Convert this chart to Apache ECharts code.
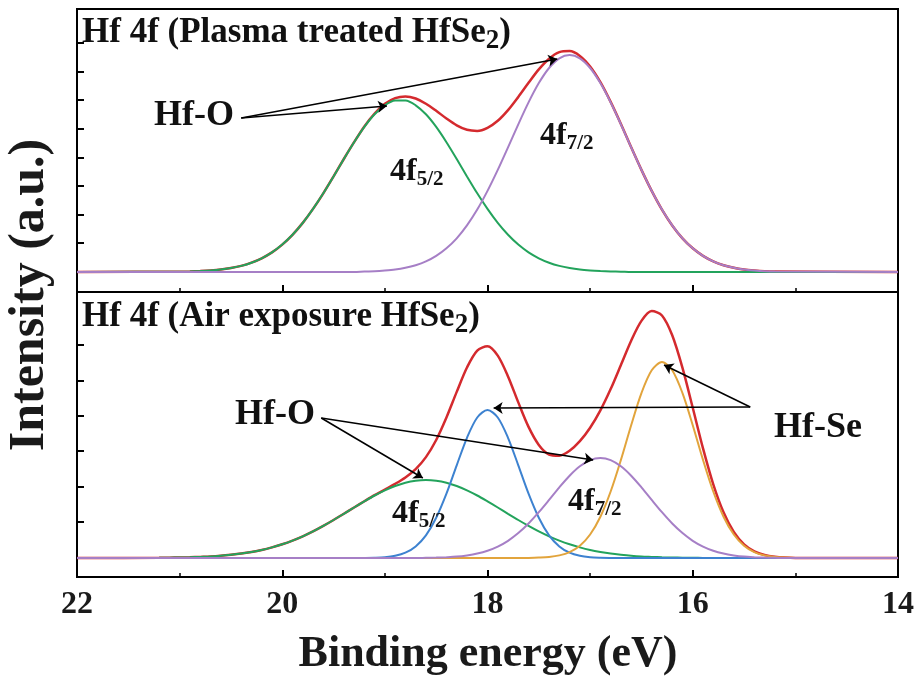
<!DOCTYPE html>
<html><head><meta charset="utf-8">
<script src="https://cdn.jsdelivr.net/npm/echarts@6/dist/echarts.min.js"></script>
<style>html,body{margin:0;padding:0;background:#fff}#c{width:919px;height:682px}</style>
</head><body><div id="c"></div>
<script>
// ---------------- data ----------------
const xTickLabels = {22:'22', 20:'20', 18:'18', 16:'16', 14:'14'};

const topEnergy = [22.0,
 21.0,20.9,20.8,20.7,20.6,20.5,20.4,20.3,20.2,20.1,
 20.0,19.9,19.8,19.7,19.6,19.5,19.4,19.3,19.2,19.1,
 19.0,18.9,18.8,18.7,18.6,18.5,18.4,18.3,18.2,18.1,
 18.0,17.9,17.8,17.7,17.6,17.5,17.4,17.3,17.2,17.1,
 17.0,16.9,16.8,16.7,16.6,16.5,16.4,16.3,16.2,16.1,
 16.0,15.9,15.8,15.7,15.6,15.5,15.4,15.3,15.2,
 14.0];
const topGreen = [0,
 0.3,0.5,0.9,1.5,2.4,3.9,6.1,9.3,13.7,19.6,
 27.4,37.2,49.1,63.1,78.7,95.6,113.0,129.8,145.1,157.7,
 166.7,171.4,171.4,166.7,157.7,145.1,129.8,113.0,95.6,78.7,
 63.1,49.1,37.2,27.4,19.6,13.7,9.3,6.1,3.9,2.4,
 1.5,0.9,0.5,0.3,0,0,0,0,0,0,
 0,0,0,0,0,0,0,0,0,
 0];
const topPurple = [0,
 0,0,0,0,0,0,0,0,0,0,
 0,0,0,0,0,0,0,0,0.5,0.8,
 1.5,2.5,4.2,6.8,10.6,16.1,23.7,33.7,46.6,62.4,
 81.1,102.1,124.7,147.7,169.6,188.9,204.0,213.7,217,213.7,
 204.0,188.9,169.6,147.7,124.7,102.1,81.1,62.4,46.6,33.7,
 23.7,16.1,10.6,6.8,4.2,2.5,1.5,0.8,0.5,
 0];
const topEnvelope = [0,
 0.3,0.5,0.9,1.5,2.4,3.9,6.1,9.3,13.7,19.6,
 27.4,37.2,49.1,63.1,78.7,95.6,113.0,129.8,145.6,158.5,
 168.2,173.9,175.6,173.5,168.3,161.2,153.5,146.7,142.2,141.1,
 144.2,151.2,161.9,175.1,189.2,202.6,213.3,219.8,220.9,216.1,
 205.5,189.8,170.1,148.0,124.7,102.1,81.1,62.4,46.6,33.7,
 23.7,16.1,10.6,6.8,4.2,2.5,1.5,0.8,0.5,
 0];

const botEnergy = [22.0,
 21.2,21.1,
 21.0,20.9,20.8,20.7,20.6,20.5,20.4,20.3,20.2,20.1,
 20.0,19.9,19.8,19.7,19.6,19.5,19.4,19.3,19.2,19.1,
 19.0,18.9,18.8,18.7,18.6,18.5,18.4,18.3,18.2,18.1,
 18.0,17.9,17.8,17.7,17.6,17.5,17.4,17.3,17.2,17.1,
 17.0,16.9,16.8,16.7,16.6,16.5,16.4,16.3,16.2,16.1,
 16.0,15.9,15.8,15.7,15.6,15.5,15.4,15.3,15.2,15.1,
 15.0,
 14.0];
const botGreen = [0,
 0.2,0.3,
 0.5,0.7,1.1,1.5,2.2,3.2,4.4,6.0,8.0,10.6,
 13.7,17.4,21.7,26.6,32.1,38.0,44.2,50.5,56.6,62.5,
 67.7,72.0,75.3,77.3,78.0,77.3,75.3,72.0,67.7,62.5,
 56.6,50.5,44.2,38.0,32.1,26.6,21.7,17.4,13.7,10.6,
 8.0,6.0,4.4,3.2,2.2,1.5,1.1,0.7,0.5,0.3,
 0.2,0.1,0,0,0,0,0,0,0,0,
 0,
 0];
const botBlue = [0,
 0,0,
 0,0,0,0,0,0,0,0,0,0,
 0,0,0,0,0,0,0,0,0.1,0.3,
 0.8,2.2,5.3,11.6,22.7,40.3,64.4,92.7,120.2,140.5,
 148,140.5,120.2,92.7,64.4,40.3,22.7,11.6,5.3,2.2,
 0.8,0.3,0.1,0,0,0,0,0,0,0,
 0,0,0,0,0,0,0,0,0,0,
 0,
 0];
const botPurple = [0,
 0,0,
 0,0,0,0,0,0,0,0,0,0,
 0,0,0,0,0,0,0,0,0,0,
 0,0,0,0,0.2,0.4,0.8,1.4,2.6,4.4,
 7.2,11.4,17.2,24.9,34.5,45.8,58.1,70.7,82.3,91.7,
 97.9,100,97.9,91.7,82.3,70.7,58.1,45.8,34.5,24.9,
 17.2,11.4,7.2,4.4,2.6,1.4,0.8,0.4,0.2,0,
 0,
 0];
const botOrange = [0,
 0,0,
 0,0,0,0,0,0,0,0,0,0,
 0,0,0,0,0,0,0,0,0,0,
 0,0,0,0,0,0,0,0,0,0,
 0,0,0,0,0.1,0.4,1.0,2.6,5.9,12.3,
 23.5,41.3,66.5,98.1,132.8,164.9,187.7,196,187.7,164.9,
 132.8,98.1,66.5,41.3,23.5,12.3,5.9,2.6,1.0,0.4,
 0.1,
 0];
const botEnvelope = [0,
 0.2,0.3,
 0.5,0.7,1.1,1.5,2.2,3.2,4.4,6.0,8.0,10.6,
 13.7,17.4,21.7,26.6,32.1,38.0,44.2,50.5,56.7,62.8,
 68.5,74.2,80.6,88.9,100.9,118.0,140.5,166.1,190.5,207.4,
 211.8,202.4,181.6,155.6,131.1,113.1,103.5,102.3,107.2,116.8,
 130.2,147.6,168.9,193.0,217.3,237.1,246.9,242.5,222.7,190.1,
 150.2,109.6,73.7,45.7,26.1,13.7,6.7,3.0,1.2,0.4,
 0.1,
 0];

// annotation arrows: [from, to] in (energy, intensity)
const topArrows = [[[20.40,154],[18.98,166]], [[20.40,154],[17.32,213]]];
const botArrows = [[[19.62,140],[18.63,80]], [[19.62,140],[16.97,98]],
                   [[15.44,151],[17.94,150]], [[15.44,151],[16.28,193]]];

// ---------------- chart ----------------
const FONT = '"Liberation Serif","Times New Roman",serif';
const C = {red:'#d42a2e', green:'#23a35c', purple:'#a67fc6', blue:'#3d82d0', orange:'#e2a43c'};
const pairs = (xs, ys) => xs.map((x, i) => [x, ys[i]]);

function arrowMark(list){
  return {silent:true, symbol:['none','arrow'], symbolSize:9, animation:false,
    lineStyle:{color:'#000', width:1.5, type:'solid'}, label:{show:false},
    data:list.map(a => [{coord:a[0]}, {coord:a[1]}])};
}
function curve(xi, name, xs, ys, color, w, z, extra){
  return Object.assign({type:'line', name, xAxisIndex:xi, yAxisIndex:xi,
    data:pairs(xs, ys), smooth:0.3, symbol:'none', z,
    lineStyle:{color, width:w}, itemStyle:{color}}, extra || {});
}
function xAx(gi, labels){
  return {gridIndex:gi, type:'value', min:14, max:22, interval:2, inverse:true,
    axisLine:{show:true, onZero:false, lineStyle:{color:'#000', width:2}},
    axisTick:{show:true, inside:true, length:7, lineStyle:{color:'#000', width:2}},
    minorTick:{show:true, splitNumber:2, length:4, lineStyle:{color:'#000', width:1.5}},
    splitLine:{show:false}, minorSplitLine:{show:false},
    axisLabel:{show:labels, showMinLabel:true, showMaxLabel:true, margin:12,
      fontSize:32, fontWeight:'bold', fontFamily:FONT, color:'#1a1a1a',
      formatter: v => xTickLabels[v] || ''}};
}
function tickY(gi, max){
  return {gridIndex:gi, type:'value', min:0, max, interval:1, position:'left',
    axisLine:{show:false, onZero:false},
    axisTick:{show:true, inside:true, length:7, lineStyle:{color:'#000', width:2}},
    axisLabel:{show:false}, splitLine:{show:false}};
}
function rtext(x, y, main, sub, mSize, sSize, sLine, mLine, tail){
  let t = '{m|' + main + '}' + (sub ? '{s|' + sub + '}' : '') + (tail ? '{m|' + tail + '}' : '');
  return {type:'text', x, y, silent:true, z:100,
    style:{text:t, align:'left', verticalAlign:'middle', fill:'#111',
      fontFamily:FONT, fontWeight:'bold', fontSize:mSize,
      rich:{m:{fontFamily:FONT, fontWeight:'bold', fontSize:mSize, lineHeight:mLine, verticalAlign:'middle', fill:'#111'},
            s:{fontFamily:FONT, fontWeight:'bold', fontSize:sSize, lineHeight:sLine, verticalAlign:'bottom', fill:'#111'}}}};
}

const chart = echarts.init(document.getElementById('c'), null, {renderer:'canvas'});
chart.setOption({
  animation:false,
  backgroundColor:'#fff',
  grid:[
    {left:77, right:21, top:9, height:283, show:true, borderColor:'#000', borderWidth:2, backgroundColor:'transparent'},
    {left:77, right:21, top:292, height:285, show:true, borderColor:'#000', borderWidth:2, backgroundColor:'transparent'},
    {left:77, right:21, top:43, height:200},
    {left:77, right:21, top:345, height:177}
  ],
  xAxis:[ xAx(0, false), xAx(1, true),
    {gridIndex:2, type:'value', show:false, min:0, max:1},
    {gridIndex:3, type:'value', show:false, min:0, max:1} ],
  yAxis:[
    {gridIndex:0, type:'value', min:-20, max:263, show:false},
    {gridIndex:1, type:'value', min:-19, max:266, show:false},
    tickY(2, 7), tickY(3, 5)
  ],
  series:[
    curve(0, 'Envelope', topEnergy, topEnvelope, C.red, 2.5, 2, {markLine:arrowMark(topArrows)}),
    curve(0, 'Hf-O 4f5/2', topEnergy, topGreen, C.green, 2, 3),
    curve(0, 'Hf-O 4f7/2', topEnergy, topPurple, C.purple, 2, 4),
    curve(1, 'Envelope', botEnergy, botEnvelope, C.red, 2.5, 2, {markLine:arrowMark(botArrows)}),
    curve(1, 'Hf-O 4f5/2', botEnergy, botGreen, C.green, 2, 3),
    curve(1, 'Hf-Se 4f5/2', botEnergy, botBlue, C.blue, 2, 3),
    curve(1, 'Hf-Se 4f7/2', botEnergy, botOrange, C.orange, 2, 3),
    curve(1, 'Hf-O 4f7/2', botEnergy, botPurple, C.purple, 2, 4)
  ],
  graphic:[
    rtext(82, 33, 'Hf 4f (Plasma treated HfSe', '2', 35, 27, 26, 44, ')'),
    rtext(82, 317, 'Hf 4f (Air exposure HfSe', '2', 35, 27, 26, 44, ')'),
    rtext(154, 116, 'Hf-O', null, 36, 20, 14, 40),
    rtext(235, 415, 'Hf-O', null, 36, 20, 14, 40),
    rtext(774, 428, 'Hf-Se', null, 36, 20, 14, 40),
    rtext(390, 172, '4f', '5/2', 32, 21, 14, 36),
    rtext(540, 136, '4f', '7/2', 32, 21, 14, 36),
    rtext(392, 514, '4f', '5/2', 32, 21, 14, 36),
    rtext(568, 502, '4f', '7/2', 32, 21, 14, 36),
    {type:'text', x:488, y:655, silent:true,
      style:{text:'Binding energy (eV)', align:'center', verticalAlign:'middle', fill:'#1a1a1a',
        fontFamily:FONT, fontWeight:'bold', fontSize:44}},
    {type:'text', x:30, y:295, rotation:Math.PI/2, silent:true,
      style:{text:'Intensity (a.u.)', align:'center', verticalAlign:'middle', fill:'#1a1a1a',
        fontFamily:FONT, fontWeight:'bold', fontSize:50}}
  ]
});
</script></body></html>
